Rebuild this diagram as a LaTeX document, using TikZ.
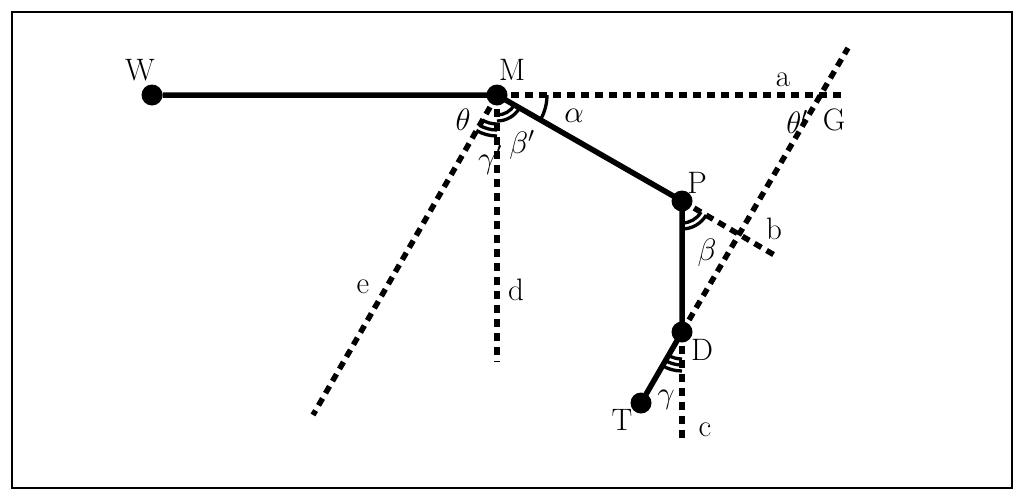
\RequirePackage{fix-cm}
\documentclass[tikz,border=0pt]{standalone}
\usepackage{fontspec}
\begin{document}
\begin{tikzpicture}[x=1pt,y=-1pt,
 solid line/.style={line width=5.5pt},
 dash line/.style={line width=5.5pt,dash pattern=on 8pt off 6pt},
 dot/.style={circle,fill=black,inner sep=0pt,minimum size=21pt},
 lab/.style={font=\fontsize{31}{31}\selectfont},
 arcl/.style={line width=3.3pt}]
\useasboundingbox (0,0) rectangle (1024,501);
\draw[line width=2pt] (12,12) rectangle (1012,488);
\node[dot] (W) at (152,95) {};
\node[dot] (M) at (497,95) {};
\node[dot] (P) at (682,201) {};
\node[dot] (D) at (682,332) {};
\node[dot] (T) at (641,403) {};
\coordinate (a) at (842,95);
\coordinate (g) at (848,48);
\coordinate (d) at (497,362);
\coordinate (c) at (682,442);
\coordinate (e) at (313,415);
\coordinate (b) at (776,256);
\draw[dash line] (M.center) -- (a);
\draw[dash line] (D.center) -- (g);
\draw[dash line] (M.center) -- (d);
\draw[dash line] (D.center) -- (c);
\draw[dash line] (M.center) -- (e);
\draw[dash line] (P.center) -- (b);
\draw[solid line] (W) -- (M.center) -- (P.center) -- (D.center) -- (T.center);
\draw[arcl] (M.center) ++(0:50) arc[start angle=0,end angle=29.8,radius=50];
\foreach \r in {20,26} \draw[arcl] (M.center) ++(29.8:\r) arc[start angle=29.8,end angle=90,radius=\r];
\foreach \r in {29,35,41} \draw[arcl] (M.center) ++(90:\r) arc[start angle=90,end angle=120.3,radius=\r];
\foreach \r in {22,28} \draw[arcl] (P.center) ++(30.3:\r) arc[start angle=30.3,end angle=90,radius=\r];
\foreach \r in {27,33,39} \draw[arcl] (D.center) ++(90:\r) arc[start angle=90,end angle=120,radius=\r];
\node[lab] at (140,70) {W};
\node[lab] at (512,70) {M};
\node[lab] at (783,80) {a};
\node[lab] at (797,122) {$\theta'$};
\node[lab] at (834,120) {G};
\node[lab] at (463,120) {$\theta$};
\node[lab] at (522,145) {$\beta'$};
\node[lab] at (490,160) {$\gamma'$};
\node[lab] at (574,116) {$\alpha$};
\node[lab] at (697,183) {P};
\node[lab] at (774,229) {b};
\node[lab] at (707,253) {$\beta$};
\node[lab] at (363,287) {e};
\node[lab] at (516,290) {d};
\node[lab] at (702,350) {D};
\node[lab] at (666,400) {$\gamma$};
\node[lab] at (622,420) {T};
\node[lab] at (705,430) {c};
\end{tikzpicture}
\end{document}
